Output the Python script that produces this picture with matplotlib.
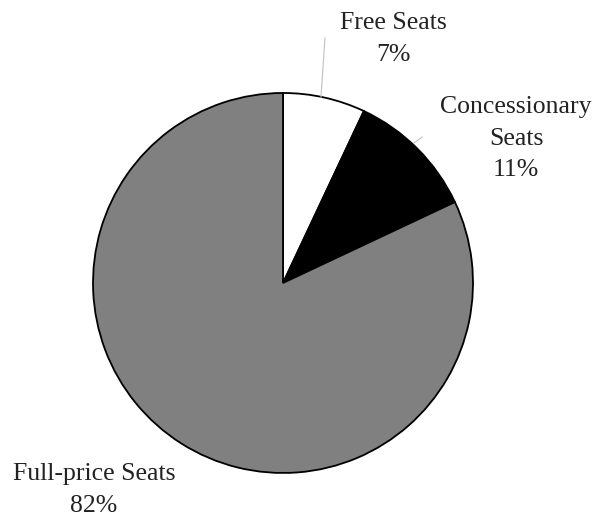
import matplotlib
matplotlib.use("Agg")
import matplotlib.pyplot as plt

# data
labels = ["Free Seats\n7%", "Concessionary\nSeats\n11%", "Full-price Seats\n82%"]
values = [7, 11, 82]
colors = ["white", "black", "#808080"]

plt.rcParams["font.family"] = ["Liberation Serif", "DejaVu Serif"]

fig = plt.figure(figsize=(5.97, 5.22), dpi=100)
ax = fig.add_axes([0.1558, 0.0939, 0.6365, 0.728])

ax.pie(values, colors=colors, startangle=90, counterclock=False,
       wedgeprops={"edgecolor": "black", "linewidth": 1.3})
ax.set_xlim(-1, 1)
ax.set_ylim(-1, 1)
ax.set_aspect("equal")
ax.axis("off")

# label positions (data coords)
pos = [(0.58, 1.284), (1.226, 0.76), (-0.995, -1.089)]
for lab, (x, y) in zip(labels, pos):
    ax.text(x, y, lab, ha="center", va="center", fontsize=18.5,
            linespacing=1.55, color="#222222", clip_on=False)

# leader lines
ax.plot([0.20, 0.221], [0.979, 1.29], color="#c0c0c0", lw=0.8, clip_on=False)
ax.plot([0.69, 0.732], [0.737, 0.768], color="#c0c0c0", lw=0.8, clip_on=False)

fig.savefig("out.png", dpi=100)
